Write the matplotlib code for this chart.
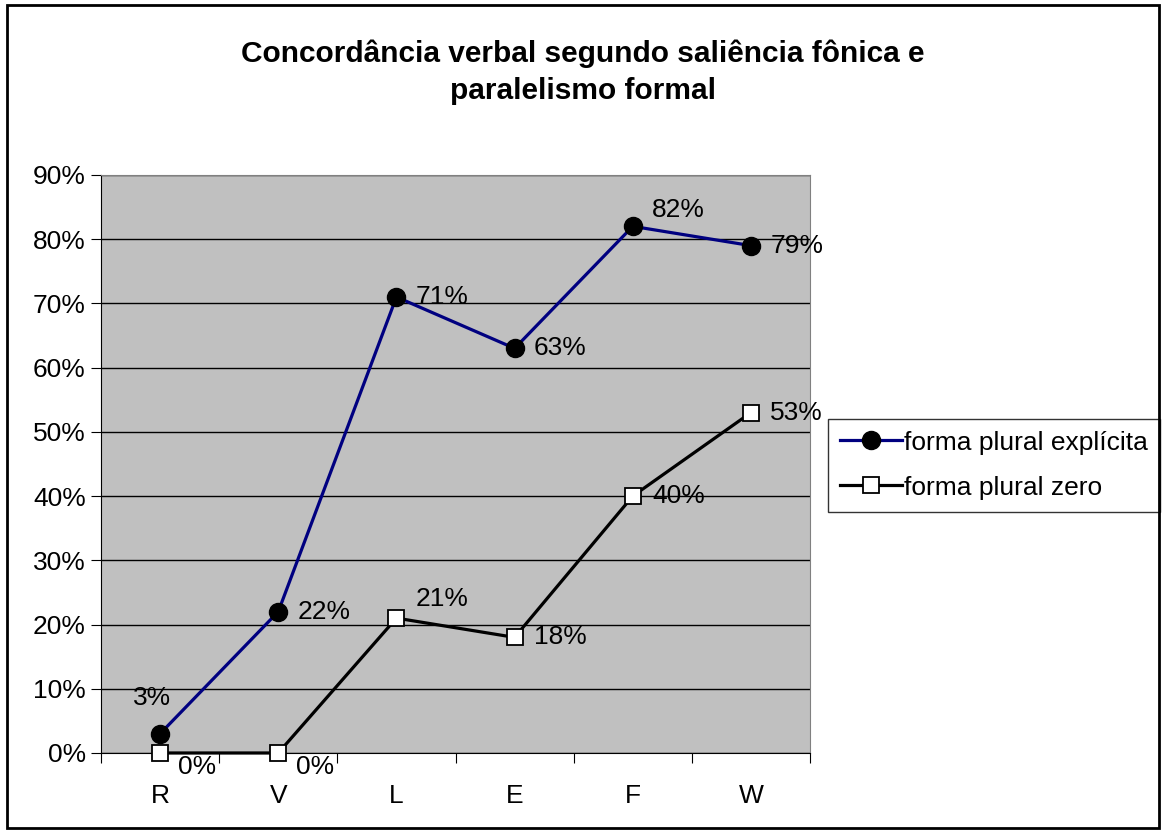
import matplotlib.pyplot as plt
from matplotlib.patches import Rectangle

# ==============================
# DATA
# ==============================
categories = ["R", "V", "L", "E", "F", "W"]
explicita = [3, 22, 71, 63, 82, 79]
zero = [0, 0, 21, 18, 40, 53]

# label placement (offset in points) per point
exp_offsets = [(-6, 26), (14, 0), (14, 0), (14, 0), (14, 12), (14, 0)]
zero_offsets = [(13, -10), (13, -10), (14, 14), (14, 0), (14, 0), (14, 0)]

plt.rcParams['font.family'] = ['Liberation Sans', 'DejaVu Sans']
FS = 19

fig = plt.figure(figsize=(11.65, 8.3), dpi=100)
ax = fig.add_axes([0.0867, 0.0928, 0.6086, 0.6964])
ax.set_facecolor("#C0C0C0")

x = range(len(categories))
ax.plot(x, explicita, color="#000080", lw=2.3, marker="o", ms=13,
        mfc="black", mec="black", label="forma plural explícita", zorder=3,
        clip_on=False)
ax.plot(x, zero, color="black", lw=2.3, marker="s", ms=11,
        mfc="white", mec="black", mew=1.3, label="forma plural zero", zorder=4,
        clip_on=False)

for i, v in enumerate(explicita):
    dx, dy = exp_offsets[i]
    ax.annotate(f"{v}%", (i, v), xytext=(dx, dy), textcoords="offset points",
                ha="center" if i == 0 else "left", va="center", fontsize=FS)
for i, v in enumerate(zero):
    dx, dy = zero_offsets[i]
    ax.annotate(f"{v}%", (i, v), xytext=(dx, dy), textcoords="offset points",
                ha="left", va="center", fontsize=FS)

ax.set_xlim(-0.5, 5.5)
ax.set_ylim(0, 90)
ax.set_yticks(range(0, 91, 10))
ax.set_yticklabels([f"{t}%" for t in range(0, 91, 10)], fontsize=FS)
ax.yaxis.grid(True, color="black", lw=1)
ax.set_axisbelow(True)

# category labels centred, ticks between categories
ax.set_xticks([i - 0.5 for i in range(len(categories) + 1)])
ax.set_xticklabels([])
ax.set_xticks(list(x), minor=True)
ax.set_xticklabels(categories, minor=True, fontsize=FS)
ax.tick_params(axis="x", which="minor", length=0, pad=22)
ax.tick_params(axis="x", which="major", length=7, direction="out")
ax.tick_params(axis="y", length=7, direction="out", pad=4)

for s in ["top", "right"]:
    ax.spines[s].set_color("#808080")
ax.spines["left"].set_color("black")
ax.spines["bottom"].set_color("black")

fig.text(0.5, 0.913, "Concordância verbal segundo saliência fônica e\nparalelismo formal",
         ha="center", va="center", fontsize=21.5, fontweight="bold", linespacing=1.45)

leg = ax.legend(loc="center left", bbox_to_anchor=(1.025, 0.498), fontsize=FS,
                frameon=True, fancybox=False, edgecolor="black",
                handlelength=2.35, handletextpad=0.1, borderpad=0.45,
                labelspacing=0.8, borderaxespad=0)
leg.get_frame().set_linewidth(1)

# outer border
fig.patches.append(Rectangle((0.006, 0.003), 0.989, 0.991, transform=fig.transFigure,
                             fill=False, edgecolor="black", lw=2))

plt.savefig("out.png", dpi=100)
